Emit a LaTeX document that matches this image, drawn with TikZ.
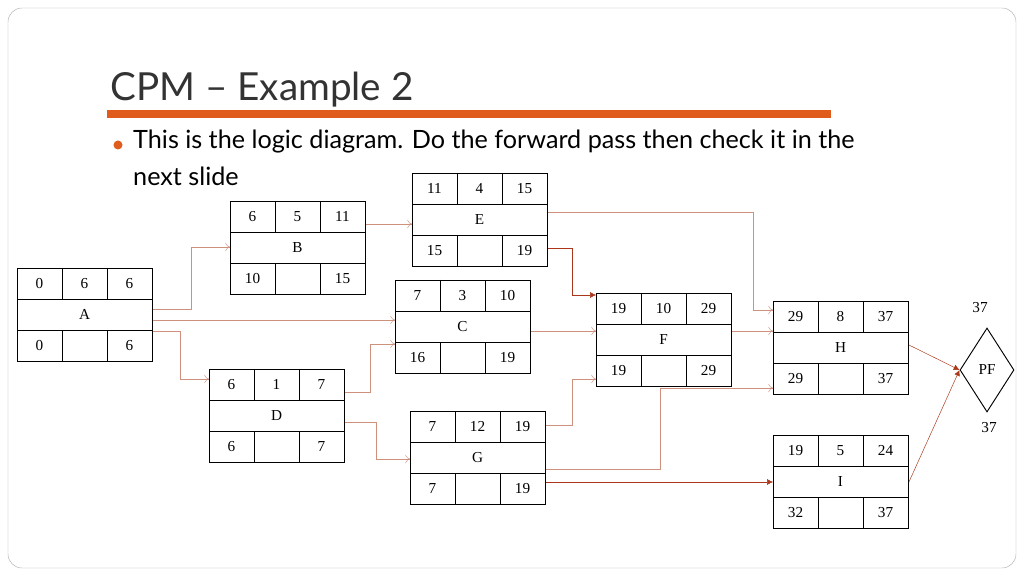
\documentclass[tikz,border=0pt]{standalone}
\usepackage{fontspec}
\setmainfont{Liberation Serif}
\newfontfamily\slidefont{Lato}
\usetikzlibrary{shapes.geometric,arrows.meta,calc}
\definecolor{linkc}{RGB}{205,145,125}
\definecolor{darkc}{RGB}{170,55,25}
\definecolor{barc}{RGB}{224,92,28}
\tikzset{
  actbox/.style={draw, thick, rectangle, minimum width=135*0.3mm, minimum height=93*0.3mm, anchor=north west, inner sep=0pt},
  link/.style={linkc, -{To[length=4pt,width=7pt]}},
  hardlink/.style={darkc, -{Latex[length=5pt,width=5pt]}},
  cellnum/.style={font=\fontsize{13}{15}\selectfont}
}
% activity box: name, x, y, es, dur, ef, label, ls, lf
\newcommand{\actnode}[9]{%
  \node[actbox] (#1) at (#2,#3) {};
  \draw[thick] ($(#1.north west)!1/3!(#1.south west)$) -- ($(#1.north east)!1/3!(#1.south east)$);
  \draw[thick] ($(#1.north west)!2/3!(#1.south west)$) -- ($(#1.north east)!2/3!(#1.south east)$);
  \draw[thick] ($(#1.north west)!1/3!(#1.north east)$) -- ++(0,31);
  \draw[thick] ($(#1.north west)!2/3!(#1.north east)$) -- ++(0,31);
  \draw[thick] ($(#1.south west)!1/3!(#1.south east)$) -- ++(0,-31);
  \draw[thick] ($(#1.south west)!2/3!(#1.south east)$) -- ++(0,-31);
  \node[cellnum] at ($(#1.north west)+(22.5,15.5)$) {#4};
  \node[cellnum] at ($(#1.north west)+(67.5,15.5)$) {#5};
  \node[cellnum] at ($(#1.north west)+(112.5,15.5)$) {#6};
  \node[cellnum] at ($(#1.north west)+(67.5,46.5)$) {#7};
  \node[cellnum] at ($(#1.north west)+(22.5,77.5)$) {#8};
  \node[cellnum] at ($(#1.north west)+(112.5,77.5)$) {#9};
}
\begin{document}
\begin{tikzpicture}[x=0.3mm,y=-0.3mm]
  \useasboundingbox (0,0) rectangle (1024,576);
  \draw[gray!60, rounded corners=12pt] (8,8) rectangle (1016,568);

  % title
  \node[anchor=base west, inner sep=0pt, font=\slidefont\fontsize{33}{38}\selectfont, text=black!80] (title) at (110,101) {CPM – Example 2};
  \fill[barc] (107,110) rectangle (831,118);
  \fill[barc] (118,145) circle (4.5);
  \node[anchor=north west, inner sep=0pt, font=\slidefont\fontsize{21.5}{31}\selectfont, align=left] (bullet) at (133,130)
    {This is the logic diagram. Do the forward pass then check it in the\\next slide};

  % activities
  \actnode{A}{17}{268}{0}{6}{6}{A}{0}{6}
  \actnode{B}{230}{201}{6}{5}{11}{B}{10}{15}
  \actnode{E}{412}{173}{11}{4}{15}{E}{15}{19}
  \actnode{C}{395}{280}{7}{3}{10}{C}{16}{19}
  \actnode{D}{209}{369}{6}{1}{7}{D}{6}{7}
  \actnode{G}{410}{411}{7}{12}{19}{G}{7}{19}
  \actnode{F}{596}{293}{19}{10}{29}{F}{19}{29}
  \actnode{H}{773}{301}{29}{8}{37}{H}{29}{37}
  \actnode{I}{773}{435}{19}{5}{24}{I}{32}{37}

  \node[draw, thick, diamond, minimum width=54*0.3mm, minimum height=84*0.3mm, inner sep=0pt, cellnum] (PF) at (987,370) {PF};
  \node[cellnum] (PFes) at (980,308) {37};
  \node[cellnum] (PFlf) at (989,428) {37};

  % connectors
  \draw[link] ($(A.north east)+(0,41)$) -| (191,247) -- ($(B.north west)+(0,46)$);
  \draw[link] ($(A.north east)+(0,52)$) -- ($(C.north west)+(0,40)$);
  \draw[link] ($(A.north east)+(0,63)$) -| (180,379) -- ($(D.north west)+(0,10)$);
  \draw[link] ($(B.north east)+(0,23)$) -- ($(E.north west)+(0,51)$);
  \draw[link] ($(D.north east)+(0,23)$) -| (370,344) -- ($(C.north west)+(0,64)$);
  \draw[link] ($(D.north east)+(0,53)$) -| (376,459) -- ($(G.north west)+(0,48)$);
  \draw[hardlink] ($(E.north east)+(0,75)$) -| (572,295) -- ($(F.north west)+(0,2)$);
  \draw[link] ($(E.north east)+(0,39)$) -| (753,310) -- ($(H.north west)+(0,9)$);
  \draw[link] ($(C.north east)+(0,51)$) -- ($(F.north west)+(0,38)$);
  \draw[link] ($(G.north east)+(0,14)$) -| (572,379) -- ($(F.north west)+(0,86)$);
  \draw[link] ($(G.north east)+(0,58)$) -| (660,388) -- ($(H.north west)+(0,87)$);
  \draw[link] ($(F.north east)+(0,38)$) -- ($(H.north west)+(0,30)$);
  \draw[hardlink] ($(G.north east)+(0,71)$) -- ($(I.north west)+(0,47)$);
  \draw[hardlink] ($(H.north east)+(0,44)$) -- (PF.west);
  \draw[hardlink] ($(I.north east)+(0,47)$) -- (PF.west);
\end{tikzpicture}
\end{document}
